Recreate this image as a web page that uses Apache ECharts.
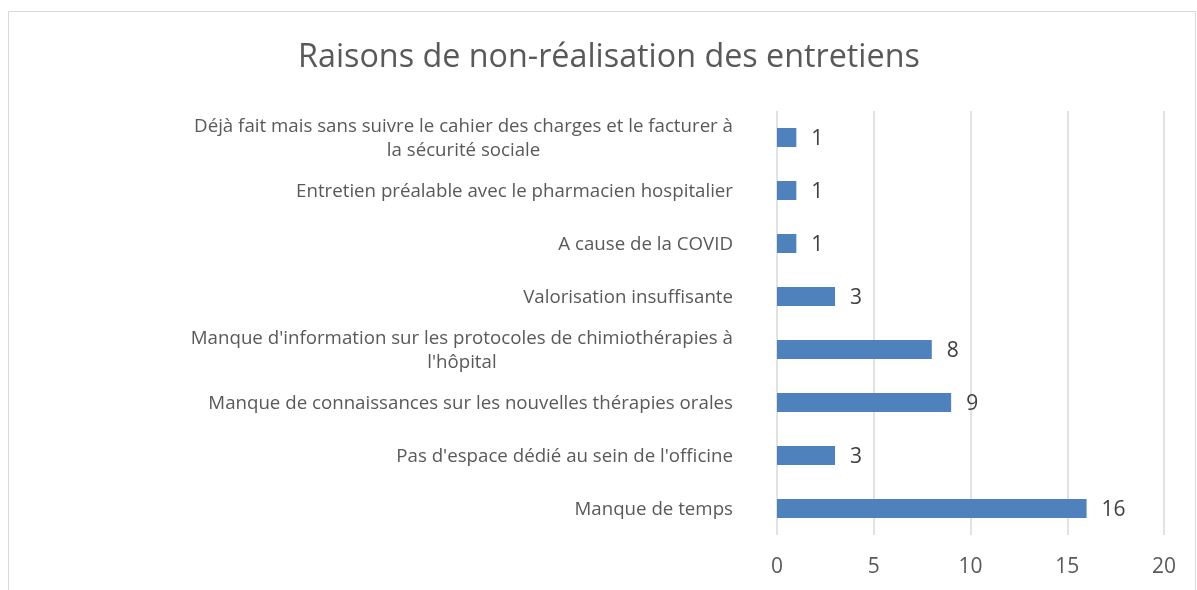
<!DOCTYPE html>
<html>
<head>
<meta charset="utf-8">
<script src="https://cdn.jsdelivr.net/npm/echarts@6/dist/echarts.min.js"></script>
<style>
  html, body { margin: 0; padding: 0; background: #fff; }
  #chart { width: 1197px; height: 590px; }
</style>
</head>
<body>
<div id="chart"></div>
<script>
// categories bottom -> top (ECharts category y axis starts at the bottom)
const categories = [
  'Manque de temps',
  "Pas d'espace dédié au sein de l'officine",
  'Manque de connaissances sur les nouvelles thérapies orales',
  "Manque d'information sur les protocoles de chimiothérapies à\nl'hôpital",
  'Valorisation insuffisante',
  'A cause de la COVID',
  'Entretien préalable avec le pharmacien hospitalier',
  'Déjà fait mais sans suivre le cahier des charges et le facturer à\nla sécurité sociale'
]
const values = [16, 3, 9, 8, 3, 1, 1, 1]
const xTicks = [0, 5, 10, 15, 20]

const font = '"Open Sans", Lato, sans-serif'
const chart = echarts.init(document.getElementById('chart'))
const option = {
  animation: false,
  textStyle: { fontFamily: font },
  title: {
    text: 'Raisons de non-réalisation des entretiens',
    left: 293,
    top: 37,
    textStyle: { fontSize: 32.3, fontWeight: 'normal', color: '#595959', fontFamily: font }
  },
  graphic: [{
    type: 'rect',
    shape: { x: 8.5, y: 11.5, width: 1187, height: 600 },
    style: { fill: 'none', stroke: '#d9d9d9', lineWidth: 1 },
    silent: true
  }],
  grid: { left: 777, right: 33, top: 111, bottom: 55 },
  xAxis: {
    type: 'value',
    min: 0,
    max: 20,
    interval: 5,
    axisLine: { show: false },
    axisTick: { show: false },
    splitLine: { lineStyle: { color: '#d9d9d9', width: 1.5 } },
    axisLabel: {
      margin: 22,
      fontSize: 21,
      color: '#595959',
      formatter: v => (xTicks.includes(v) ? String(v) : '')
    }
  },
  yAxis: {
    type: 'category',
    data: categories,
    axisLine: { show: false },
    axisTick: { show: false },
    axisLabel: {
      margin: 44,
      fontSize: 18.7,
      color: '#595959',
      lineHeight: 24,
      formatter: v => '{a|' + v.split('\n').join('}\n{a|') + '}',
      rich: { a: { align: 'center', fontSize: 18.7, lineHeight: 24, color: '#595959', fontFamily: font, padding: [2, 0, 0, 0] } }
    }
  },
  series: [{
    type: 'bar',
    data: values,
    barWidth: 19,
    itemStyle: { color: '#4f81bd' },
    label: {
      show: true,
      position: 'right',
      distance: 15,
      offset: [0, 2],
      fontSize: 21,
      color: '#404040',
      fontFamily: font
    }
  }]
}
chart.setOption(option)
</script>
</body>
</html>
